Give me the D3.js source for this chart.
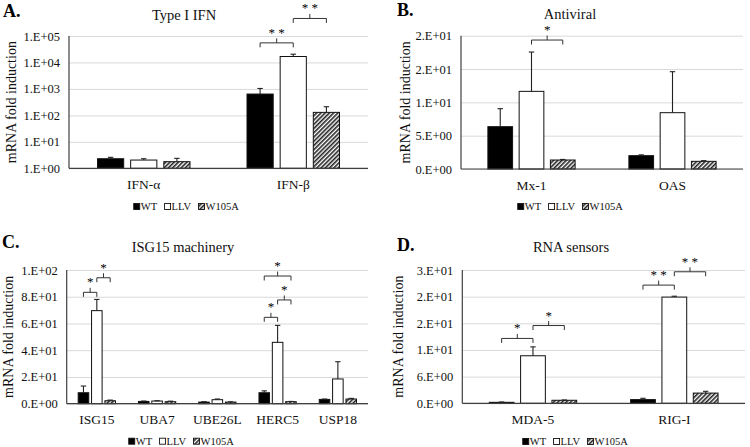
<!DOCTYPE html>
<html><head><meta charset="utf-8">
<script src="https://cdn.jsdelivr.net/npm/d3@7"></script>
<style>html,body{margin:0;padding:0;background:#fff;} svg{display:block;}</style>
</head><body><svg id="c" width="750" height="447"></svg>
<script>
const seriesNames = ["WT", "LLV", "W105A"];

// Panel A: Type I IFN (log scale)
const catsA = ["IFN-α", "IFN-β"];
const wtA = [2.3, 640];
const llvA = [2.05, 16800];
const w105aA = [1.78, 130];
const wtErrA = [0.3, 400];
const llvErrA = [0.25, 3700];
const w105aErrA = [0.6, 82];
const ticksA = [1, 10, 100, 1000, 10000, 100000];
const tickLabelsA = ["1.E+00", "1.E+01", "1.E+02", "1.E+03", "1.E+04", "1.E+05"];
const sigA = [
  {cat: 1, from: 0, to: 1, level: 5.5e4, label: "**"},
  {cat: 1, from: 1, to: 2, level: 4.6e5, label: "**"}
];

// Panel B: Antiviral
const catsB = ["Mx-1", "OAS"];
const wtB = [6.35, 2.0];
const llvB = [11.65, 8.45];
const w105aB = [1.35, 1.15];
const wtErrB = [2.7, 0.12];
const llvErrB = [5.9, 6.15];
const w105aErrB = [0.08, 0.1];
const ticksB = [0, 5, 10, 15, 20];
const tickLabelsB = ["0.E+00", "5.E+00", "1.E+01", "2.E+01", "2.E+01"];
const sigB = [
  {cat: 0, from: 1, to: 2, level: 19.35, label: "*"}
];

// Panel C: ISG15 machinery
const catsC = ["ISG15", "UBA7", "UBE26L", "HERC5", "USP18"];
const wtC = [8.2, 1.7, 1.2, 8.2, 3.2];
const llvC = [69.6, 2.0, 3.0, 45.9, 18.5];
const w105aC = [2.2, 1.5, 1.2, 1.5, 3.5];
const wtErrC = [5.0, 0.3, 0.3, 1.4, 0.3];
const llvErrC = [8.4, 0.2, 0.5, 12.7, 12.9];
const w105aErrC = [0.5, 0.4, 0.2, 0.2, 0.5];
const ticksC = [0, 20, 40, 60, 80, 100];
const tickLabelsC = ["0.E+00", "2.E+01", "4.E+01", "6.E+01", "8.E+01", "1.E+02"];
const sigC = [
  {cat: 0, from: 0, to: 1, level: 83.3, label: "*"},
  {cat: 0, from: 1, to: 2, level: 94.2, label: "*"},
  {cat: 3, from: 0, to: 1, level: 64.6, label: "*"},
  {cat: 3, from: 1, to: 2, level: 77.6, label: "*"},
  {cat: 3, from: 0, to: 2, level: 95.5, label: "*"}
];

// Panel D: RNA sensors
const catsD = ["MDA-5", "RIG-I"];
const wtD = [0.22, 0.83];
const llvD = [10.7, 23.9];
const w105aD = [0.68, 2.3];
const wtErrD = [0.08, 0.3];
const llvErrD = [2.0, 0.2];
const w105aErrD = [0.07, 0.4];
const ticksD = [0, 6, 12, 18, 24, 30];
const tickLabelsD = ["0.E+00", "6.E+00", "1.E+01", "2.E+01", "2.E+01", "3.E+01"];
const sigD = [
  {cat: 0, from: 0, to: 1, level: 14.6, label: "*"},
  {cat: 0, from: 1, to: 2, level: 17.5, label: "*"},
  {cat: 1, from: 0, to: 1, level: 26.6, label: "**"},
  {cat: 1, from: 1, to: 2, level: 29.6, label: "**"}
];

const FONT = "Liberation Serif, Times New Roman, serif";
const svg = d3.select("#c");
const defs = svg.append("defs");
const pat = defs.append("pattern").attr("id", "hatch").attr("patternUnits", "userSpaceOnUse")
  .attr("width", 3).attr("height", 3).attr("patternTransform", "rotate(45)");
pat.append("rect").attr("width", 3).attr("height", 3).attr("fill", "#fff");
pat.append("line").attr("x1", 0.8).attr("y1", 0).attr("x2", 0.8).attr("y2", 3)
  .attr("stroke", "#222").attr("stroke-width", 1.6);

const fills = ["#000", "#fff", "url(#hatch)"];

const panels = [
  {letter: "A.", letterPos: [3, 17], title: "Type I IFN", titlePos: [184, 19.5], cats: catsA,
   vals: [wtA, llvA, w105aA], errs: [wtErrA, llvErrA, w105aErrA], ticks: ticksA, tickLabels: tickLabelsA,
   log: true, sig: sigA, box: {x0: 69, x1: 368, y0: 36, y1: 168.3}, ylabX: 11, legendPos: [186, 207]},
  {letter: "B.", letterPos: [397, 16], title: "Antiviral", titlePos: [570, 18.5], cats: catsB,
   vals: [wtB, llvB, w105aB], errs: [wtErrB, llvErrB, w105aErrB], ticks: ticksB, tickLabels: tickLabelsB,
   log: false, sig: sigB, box: {x0: 461, x1: 743, y0: 35.7, y1: 169}, ylabX: 405, legendPos: [570, 207]},
  {letter: "C.", letterPos: [2, 248], title: "ISG15 machinery", titlePos: [183, 251.7], cats: catsC,
   vals: [wtC, llvC, w105aC], errs: [wtErrC, llvErrC, w105aErrC], ticks: ticksC, tickLabels: tickLabelsC,
   log: false, sig: sigC, box: {x0: 66.7, x1: 368, y0: 270, y1: 403.7}, ylabX: 8.5, legendPos: [181, 441.7]},
  {letter: "D.", letterPos: [397, 251], title: "RNA sensors", titlePos: [571, 251.7], cats: catsD,
   vals: [wtD, llvD, w105aD], errs: [wtErrD, llvErrD, w105aErrD], ticks: ticksD, tickLabels: tickLabelsD,
   log: false, sig: sigD, box: {x0: 462.3, x1: 745, y0: 270, y1: 403.3}, ylabX: 398, legendPos: [575, 442]}
];

function drawPanel(p) {
  const g = svg.append("g");
  const b = p.box;
  const x0 = d3.scaleBand().domain(p.cats).range([b.x0, b.x1]);
  const x1 = d3.scaleBand().domain(seriesNames).range([0, x0.bandwidth()])
    .paddingInner(0.21).paddingOuter(0.86);
  const dom = [p.ticks[0], p.ticks[p.ticks.length - 1]];
  const y = (p.log ? d3.scaleLog() : d3.scaleLinear()).domain(dom).range([b.y1, b.y0]);
  const base = dom[0];

  // gridlines + tick labels
  const yAxis = d3.axisLeft(y).tickValues(p.ticks).tickFormat((d, i) => p.tickLabels[i])
    .tickSize(-(b.x1 - b.x0)).tickPadding(9);
  g.append("g").attr("transform", `translate(${b.x0},0)`).call(yAxis)
    .call(a => {
      a.attr("font-family", FONT);
      a.select(".domain").remove();
      a.selectAll(".tick line").attr("stroke", "#d9d9d9").attr("stroke-width", 1);
      a.selectAll(".tick text").attr("font-size", 12.5).attr("fill", "#111");
    });

  // category labels
  const xAxis = d3.axisBottom(x0).tickSize(0).tickPadding(11);
  g.append("g").attr("transform", `translate(0,${b.y1})`).call(xAxis)
    .call(a => {
      a.attr("font-family", FONT);
      a.select(".domain").remove();
      a.selectAll(".tick text").attr("font-size", 13.5).attr("fill", "#111");
    });

  // bars
  seriesNames.forEach((s, si) => {
    p.cats.forEach((c, ci) => {
      const v = p.vals[si][ci];
      const e = p.errs[si][ci];
      const bx = x0(c) + x1(s);
      const bw = x1.bandwidth();
      g.append("rect").attr("x", bx).attr("y", y(v)).attr("width", bw)
        .attr("height", y(base) - y(v)).attr("fill", fills[si])
        .attr("stroke", "#111").attr("stroke-width", 1);
      const cx = bx + bw / 2;
      g.append("line").attr("x1", cx).attr("x2", cx).attr("y1", y(v)).attr("y2", y(v + e))
        .attr("stroke", "#222").attr("stroke-width", 1.1);
      g.append("line").attr("x1", cx - 2.7).attr("x2", cx + 2.7).attr("y1", y(v + e)).attr("y2", y(v + e))
        .attr("stroke", "#222").attr("stroke-width", 1.1);
    });
  });

  // axes lines
  g.append("line").attr("x1", b.x0).attr("x2", b.x0).attr("y1", b.y0).attr("y2", b.y1)
    .attr("stroke", "#404040").attr("stroke-width", 1.2);
  g.append("line").attr("x1", b.x0).attr("x2", b.x1).attr("y1", b.y1).attr("y2", b.y1)
    .attr("stroke", "#404040").attr("stroke-width", 1.2);

  // significance brackets
  p.sig.forEach(sg => {
    const c = p.cats[sg.cat];
    const xa = x0(c) + x1(seriesNames[sg.from]) + x1.bandwidth() / 2;
    const xb = x0(c) + x1(seriesNames[sg.to]) + x1.bandwidth() / 2;
    const yl = y(sg.level);
    const xm = (xa + xb) / 2;
    g.append("path").attr("d", `M${xa},${yl + 4.5}V${yl}H${xb}V${yl + 4.5}M${xm},${yl}V${yl - 4.5}`)
      .attr("fill", "none").attr("stroke", "#333").attr("stroke-width", 1);
    g.append("text").attr("x", xm).attr("y", yl - 6).attr("text-anchor", "middle")
      .attr("font-family", FONT).attr("font-size", 13)
      .attr("fill", "#000").text(sg.label.split("").join(" "));
  });

  // y-axis label
  const ym = (b.y0 + b.y1) / 2;
  g.append("text").attr("transform", `translate(${p.ylabX},${ym}) rotate(-90)`)
    .attr("text-anchor", "middle").attr("dy", "0.35em").attr("font-family", FONT).attr("font-size", 14)
    .attr("fill", "#111").text("mRNA fold induction");

  // title and letter
  g.append("text").attr("x", p.titlePos[0]).attr("y", p.titlePos[1]).attr("text-anchor", "middle")
    .attr("font-family", FONT).attr("font-size", 14.5).attr("fill", "#111").text(p.title);
  g.append("text").attr("x", p.letterPos[0]).attr("y", p.letterPos[1])
    .attr("font-family", FONT).attr("font-size", 18).attr("font-weight", "bold").attr("fill", "#000").text(p.letter);

  // legend
  const lg = g.append("g");
  let cx = 0;
  seriesNames.forEach((s, si) => {
    lg.append("rect").attr("x", cx + 0.5).attr("y", -3.5).attr("width", 6).attr("height", 6)
      .attr("fill", fills[si]).attr("stroke", "#111").attr("stroke-width", 0.9);
    const t = lg.append("text").attr("x", cx + 7.5).attr("y", 3).attr("font-family", FONT)
      .attr("font-size", 10.5).attr("fill", "#111").text(s);
    cx += 7.5 + t.node().getComputedTextLength() + 7;
  });
  const totalW = cx - 7;
  lg.attr("transform", `translate(${p.legendPos[0] - totalW / 2},${p.legendPos[1]})`);
}

panels.forEach(drawPanel);
</script>
</body></html>
